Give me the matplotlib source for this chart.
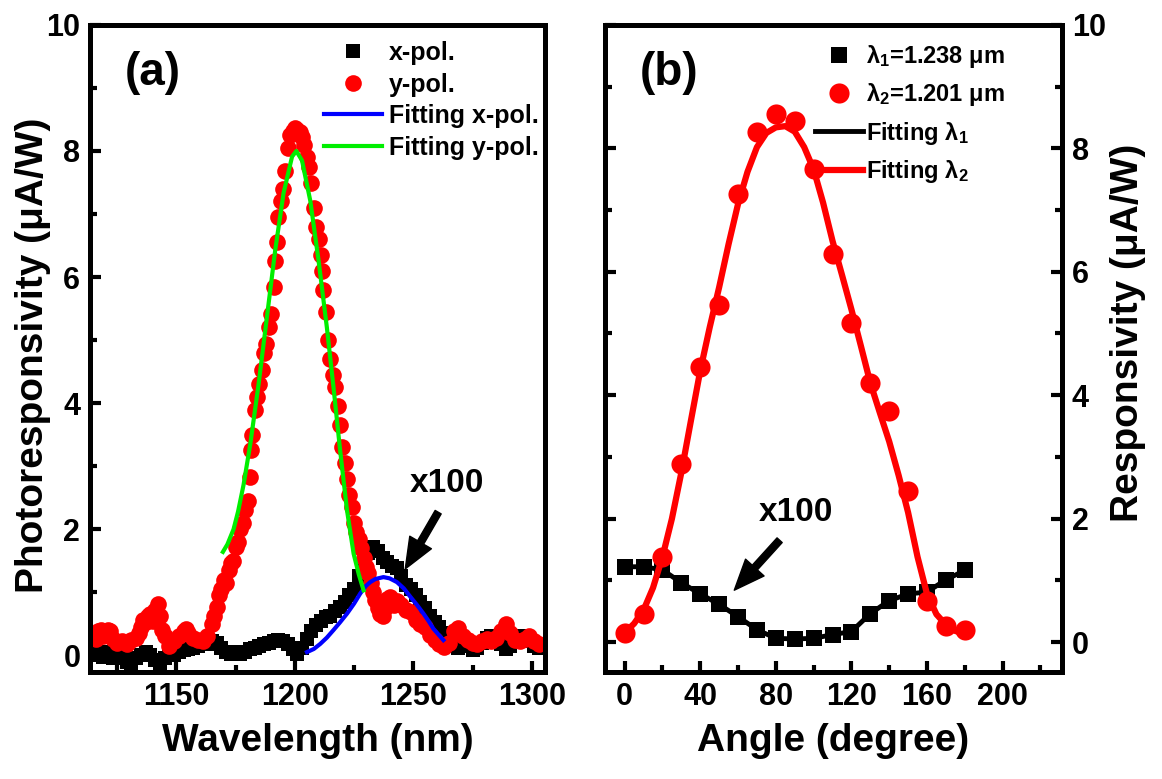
import matplotlib
matplotlib.use('Agg')
import matplotlib.pyplot as plt
from matplotlib.ticker import MultipleLocator

plt.rcParams['font.family'] = ['Liberation Sans', 'DejaVu Sans']
plt.rcParams['font.weight'] = 'bold'
plt.rcParams['axes.labelweight'] = 'bold'
plt.rcParams['mathtext.fontset'] = 'custom'
plt.rcParams['mathtext.rm'] = 'Liberation Sans:bold'
plt.rcParams['mathtext.it'] = 'Liberation Sans:bold'
plt.rcParams['mathtext.bf'] = 'Liberation Sans:bold'

# ---- panel (a): spectra ----
xpol_nm = [1115, 1117, 1119, 1121, 1123, 1125, 1127, 1129, 1131, 1133, 1135, 1137, 1139,
           1141, 1143, 1145, 1147, 1149, 1151, 1153, 1155, 1157, 1159, 1161, 1163, 1165,
           1167, 1169, 1171, 1173, 1175, 1177, 1179, 1181, 1183, 1185, 1187, 1189, 1191,
           1193, 1195, 1197, 1199, 1201, 1203, 1205, 1207, 1209, 1211, 1213, 1215, 1217,
           1219, 1221, 1223, 1225, 1227, 1229, 1231, 1233, 1235, 1237, 1239, 1241, 1243,
           1245, 1247, 1249, 1251, 1253, 1255, 1257, 1259, 1261, 1263, 1265, 1267, 1269,
           1271, 1273, 1275, 1277, 1279, 1281, 1283, 1285, 1287, 1289, 1291, 1293, 1295,
           1297, 1299, 1301, 1303]
xpol_val = [0.05, 0.00, -0.03, 0.05, -0.05, 0.00, -0.05, -0.10, -0.18, -0.05, 0.00, 0.05, 0.00,
            -0.08, -0.16, -0.05, 0.05, 0.00, 0.05, 0.08, 0.10, 0.12, 0.15, 0.20, 0.18, 0.22,
            0.20, 0.12, 0.05, 0.02, 0.05, 0.02, 0.05, 0.10, 0.12, 0.15, 0.18, 0.20, 0.22,
            0.24, 0.22, 0.18, 0.10, 0.02, 0.12, 0.25, 0.38, 0.48, 0.55, 0.60, 0.62, 0.70,
            0.77, 0.85, 0.95, 1.05, 1.25, 1.45, 1.62, 1.72, 1.65, 1.55, 1.48, 1.42, 1.38,
            1.25, 1.12, 1.05, 0.95, 0.85, 0.75, 0.62, 0.52, 0.45, 0.35, 0.25, 0.15, 0.12,
            0.20, 0.15, 0.08, 0.12, 0.20, 0.28, 0.30, 0.25, 0.18, 0.10, 0.15, 0.22, 0.30,
            0.25, 0.22, 0.15, 0.12]

ypol_nm = [1115, 1116, 1117, 1118, 1119, 1120, 1121, 1122, 1123, 1125, 1127, 1129, 1131,
           1133, 1134, 1135, 1136, 1137, 1138, 1139, 1140, 1141, 1142, 1143, 1144, 1145,
           1147, 1149, 1151, 1153, 1154, 1155, 1157, 1159, 1161, 1163, 1165, 1166, 1167,
           1168, 1169, 1170, 1171, 1172, 1173, 1174, 1175, 1176, 1177, 1178, 1179, 1180,
           1181, 1181.5, 1182, 1183, 1184, 1185, 1186, 1187, 1188, 1189, 1190, 1191,
           1191.7, 1192.3, 1193, 1194, 1195, 1196, 1197, 1198, 1199, 1200, 1201, 1202,
           1203, 1204, 1205, 1206, 1207, 1208, 1209, 1210, 1211, 1211.5, 1212, 1213, 1214,
           1215, 1216, 1217, 1218, 1219, 1220, 1221, 1222, 1223, 1224, 1225, 1226, 1227,
           1228, 1229, 1230, 1231, 1232, 1233, 1234, 1235, 1236, 1237, 1238, 1239, 1240,
           1241, 1242, 1243, 1245, 1247, 1249, 1251, 1253, 1255, 1257, 1259, 1261, 1263,
           1265, 1267, 1269, 1271, 1273, 1275, 1277, 1279, 1281, 1283, 1285, 1287, 1289,
           1291, 1293, 1295, 1297, 1299, 1301, 1303]
ypol_val = [0.32, 0.25, 0.38, 0.40, 0.30, 0.36, 0.40, 0.38, 0.25, 0.19, 0.22, 0.18, 0.24,
            0.28, 0.35, 0.45, 0.56, 0.52, 0.62, 0.66, 0.55, 0.72, 0.82, 0.62, 0.40, 0.30,
            0.15, 0.22, 0.30, 0.38, 0.42, 0.36, 0.28, 0.24, 0.22, 0.30, 0.50, 0.62, 0.77,
            0.95, 1.05, 1.19, 1.14, 1.35, 1.46, 1.50, 1.72, 1.80, 2.00, 2.10, 2.30, 2.45,
            2.83, 3.25, 3.50, 3.89, 4.10, 4.30, 4.52, 4.80, 4.94, 5.20, 5.42, 5.84,
            6.26, 6.55, 6.95, 7.20, 7.40, 7.69, 8.05, 8.25, 8.32, 8.37, 8.33, 8.30,
            8.22, 8.10, 7.90, 7.75, 7.50, 7.10, 6.80, 6.60, 6.35, 6.10, 5.80, 5.45, 5.00,
            4.70, 4.45, 4.25, 3.95, 3.65, 3.30, 3.05, 2.80, 2.55, 2.35, 2.10, 1.95, 1.85,
            1.70, 1.55, 1.40, 1.30, 1.15, 1.00, 0.88, 0.75, 0.65, 0.62, 0.75, 0.90, 0.92,
            0.85, 0.80, 0.86, 0.80, 0.72, 0.68, 0.56, 0.50, 0.45, 0.32, 0.24, 0.18, 0.13,
            0.20, 0.38, 0.44, 0.30, 0.24, 0.20, 0.18, 0.22, 0.25, 0.22, 0.28, 0.38, 0.50,
            0.35, 0.24, 0.22, 0.26, 0.30, 0.22, 0.18]

fitx_nm = [1205.1, 1208, 1210.7, 1213.5, 1216.3, 1219, 1222, 1225, 1227.6, 1230, 1231.8,
           1234, 1237.4, 1240, 1243.1, 1246, 1248.7, 1251.5, 1254.3, 1256.5, 1258.5, 1262.7]
fitx_val = [0.05, 0.10, 0.18, 0.28, 0.40, 0.52, 0.66, 0.82, 0.98, 1.10, 1.16,
            1.21, 1.24, 1.22, 1.16, 1.06, 0.93, 0.80, 0.66, 0.54, 0.42, 0.24]

fity_nm = [1169.6, 1171.5, 1174.1, 1176, 1178.3, 1181.2, 1184.7, 1188.2, 1191.7, 1195.2,
           1198.8, 1200.6, 1203, 1206.5, 1210, 1213.5, 1216.3, 1219.1, 1222, 1224.8, 1227,
           1229]
fity_val = [1.64, 1.76, 2.00, 2.28, 2.70, 3.36, 4.31, 5.37, 6.43, 7.33,
            7.91, 8.00, 7.85, 7.21, 6.26, 5.20, 4.25, 3.25, 2.30, 1.61, 1.28, 1.03]

# ---- panel (b): polarisation dependence ----
angle = [0, 10, 20, 30, 40, 50, 60, 70, 80, 90, 100, 110, 120, 130, 140, 150, 160, 170, 180]
lam1_val = [1.22, 1.22, 1.17, 0.96, 0.78, 0.61, 0.41, 0.20, 0.06, 0.05, 0.06, 0.12, 0.17,
            0.46, 0.67, 0.78, 0.81, 1.01, 1.16]
lam2_val = [0.15, 0.46, 1.38, 2.88, 4.45, 5.46, 7.26, 8.26, 8.55, 8.45, 7.66, 6.29, 5.17,
            4.20, 3.75, 2.45, 0.67, 0.26, 0.20]

fit2_ang = [-2, 0, 5, 10, 15, 20, 25, 30, 35, 40, 45, 50, 55, 60, 65, 70, 75, 80, 85, 90,
            95, 100, 105, 110, 115, 120, 125, 130, 135, 140, 145, 150, 155, 160, 165, 170,
            175, 180, 182]
fit2_val = [0.08, 0.15, 0.30, 0.52, 0.88, 1.38, 2.00, 2.75, 3.58, 4.40, 5.10, 5.75, 6.45,
            7.10, 7.62, 8.02, 8.25, 8.34, 8.36, 8.27, 8.02, 7.66, 7.12, 6.50, 5.95, 5.39,
            4.80, 4.20, 3.72, 3.25, 2.70, 2.10, 1.38, 0.78, 0.45, 0.28, 0.18, 0.13, 0.12]


def style(ax):
    for s in ax.spines.values():
        s.set_linewidth(3.6)
    ax.tick_params(which='both', direction='in', width=3, labelsize=22, pad=7)
    ax.tick_params(which='major', length=8)
    ax.tick_params(which='minor', length=5)


fig = plt.figure(figsize=(11.62, 7.79), dpi=100)
ax1 = fig.add_axes([0.0775, 0.137, 0.3915, 0.831])
ax2 = fig.add_axes([0.5207, 0.137, 0.3933, 0.831])

# (a)
h1, = ax1.plot(xpol_nm, xpol_val, 's', color='black', ms=9.5, mew=0, label='x-pol.')
h2, = ax1.plot(ypol_nm, ypol_val, 'o', color='red', ms=12, mew=0, label='y-pol.')
h3, = ax1.plot(fitx_nm, fitx_val, '-', color='blue', lw=3, label='Fitting x-pol.')
h4, = ax1.plot(fity_nm, fity_val, '-', color='#00ee00', lw=3, label='Fitting y-pol.')

ax1.set_xlim(1113.5, 1305.6)
ax1.set_ylim(-0.27, 10)
ax1.xaxis.set_major_locator(MultipleLocator(50))
ax1.xaxis.set_minor_locator(MultipleLocator(25))
ax1.yaxis.set_major_locator(MultipleLocator(2))
ax1.yaxis.set_minor_locator(MultipleLocator(1))
style(ax1)
ax1.set_xlabel('Wavelength (nm)', fontsize=28, labelpad=8)
ax1.set_ylabel('Photoresponsivity (μA/W)', fontsize=28)
ax1.yaxis.set_label_coords(-0.085, 0.49)
ax1.text(0.077, 0.925, '(a)', transform=ax1.transAxes, fontsize=33,
         ha='left', va='center')
ax1.legend(handles=[h1, h2, h3, h4], loc='upper right', bbox_to_anchor=(0.987, 0.975),
           frameon=False, fontsize=18, handlelength=2.3, handletextpad=0.3,
           labelspacing=0.3, borderaxespad=0, borderpad=0, numpoints=1)
ax1.annotate('', xy=(1246.6, 1.37), xytext=(1260.5, 2.27),
             arrowprops=dict(facecolor='black', edgecolor='black', width=5,
                             headwidth=18, headlength=22, shrink=0))
ax1.text(1264.3, 2.73, 'x100', fontsize=24, ha='center', va='center')

# (b)
g3, = ax2.plot(angle, lam1_val, '-', color='black', lw=3.5, label='Fitting λ$_1$')
g1, = ax2.plot(angle, lam1_val, 's', color='black', ms=12, mew=0, label='λ$_1$=1.238 μm')
g4, = ax2.plot(fit2_ang, fit2_val, '-', color='red', lw=4.5, label='Fitting λ$_2$')
g2, = ax2.plot(angle, lam2_val, 'o', color='red', ms=14.5, mew=0, label='λ$_2$=1.201 μm')

ax2.set_xlim(-10.4, 231.5)
ax2.set_ylim(-0.49, 10)
ax2.xaxis.set_major_locator(MultipleLocator(40))
ax2.xaxis.set_minor_locator(MultipleLocator(20))
ax2.yaxis.set_major_locator(MultipleLocator(2))
ax2.yaxis.set_minor_locator(MultipleLocator(1))
style(ax2)
ax2.tick_params(which='both', left=True, right=True, labelleft=False, labelright=True)
ax2.yaxis.set_label_position('right')
ax2.set_xlabel('Angle (degree)', fontsize=28, labelpad=8)
ax2.set_ylabel('Responsivity (μA/W)', fontsize=28)
ax2.yaxis.set_label_coords(1.105, 0.525)
ax2.text(0.077, 0.925, '(b)', transform=ax2.transAxes, fontsize=33,
         ha='left', va='center')
ax2.legend(handles=[g1, g2, g3, g4], loc='upper right', bbox_to_anchor=(0.875, 0.972),
           frameon=False, fontsize=17, handlelength=2.0, handletextpad=0.15,
           labelspacing=0.48, borderaxespad=0, borderpad=0, numpoints=1)
ax2.annotate('', xy=(58, 0.84), xytext=(82, 1.65),
             arrowprops=dict(facecolor='black', edgecolor='black', width=5,
                             headwidth=18, headlength=22, shrink=0))
ax2.text(90.7, 2.1, 'x100', fontsize=24, ha='center', va='center')

fig.savefig('out.png', dpi=100)
